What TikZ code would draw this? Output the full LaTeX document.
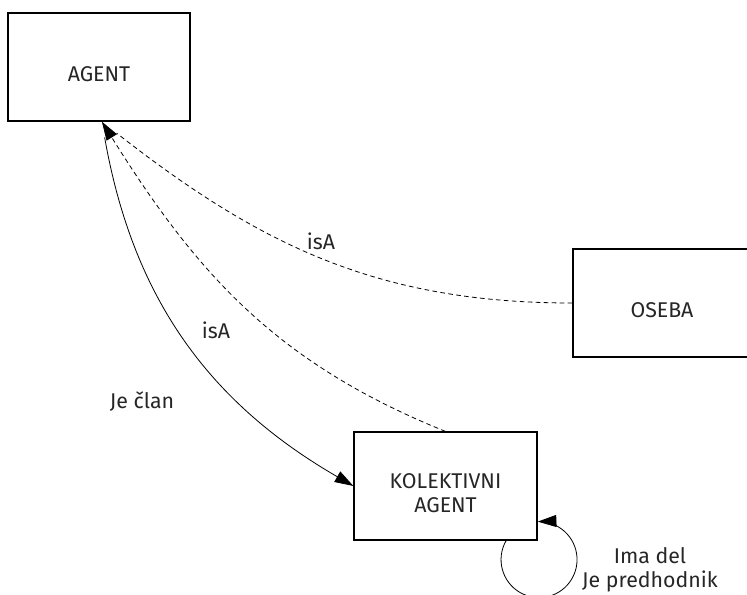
\documentclass[tikz,border=0pt]{standalone}
\usepackage{fontspec}
\setmainfont{Fira Sans}
\usetikzlibrary{arrows.meta}

\begin{document}
\begin{tikzpicture}[x=0.75pt,y=-0.75pt,>={Triangle[length=14pt,width=9pt]},
  lbl/.style={align=center,font=\fontsize{16}{18}\selectfont,text=black!85},
  entity/.style={draw,line width=0.9pt,minimum height=81pt},
  isa/.style={dash pattern=on 3.5pt off 2.5pt,line width=0.6pt},
  rel/.style={line width=0.6pt}]
\useasboundingbox (0,0) rectangle (747,594);
\node[entity,minimum width=136.5pt,label={[lbl,yshift=-5pt]center:AGENT}] (agent) at (99,67) {};
\node[entity,minimum width=133.5pt,label={[lbl,yshift=-5.5pt]center:OSEBA}] (oseba) at (662,303) {};
\node[entity,minimum width=137.25pt,label={[lbl,yshift=-5pt]center:KOLEKTIVNI\\AGENT}] (kolagent) at (445.5,486) {};
\draw[isa,shorten >=14pt] (oseba.west) to[out=180,in=-38] (agent.-87);
\draw[rel,->,shorten <=12pt] (agent.-87) to[out=-80,in=150] (kolagent.west);
\draw[isa,->] (kolagent.north) to[out=158,in=-58] (agent.-87);
\draw[rel,->] (kolagent.-42) arc[start angle=150,end angle=452,radius=28.5pt];
\node[lbl] (isaoseba) at (321,241) {isA};
\node[lbl] (isakol) at (216,330) {isA};
\node[lbl] (jeclan) at (142,402) {Je član};
\node[lbl] (imadel) at (650,570) {Ima del\\Je predhodnik};
\end{tikzpicture}
\end{document}
